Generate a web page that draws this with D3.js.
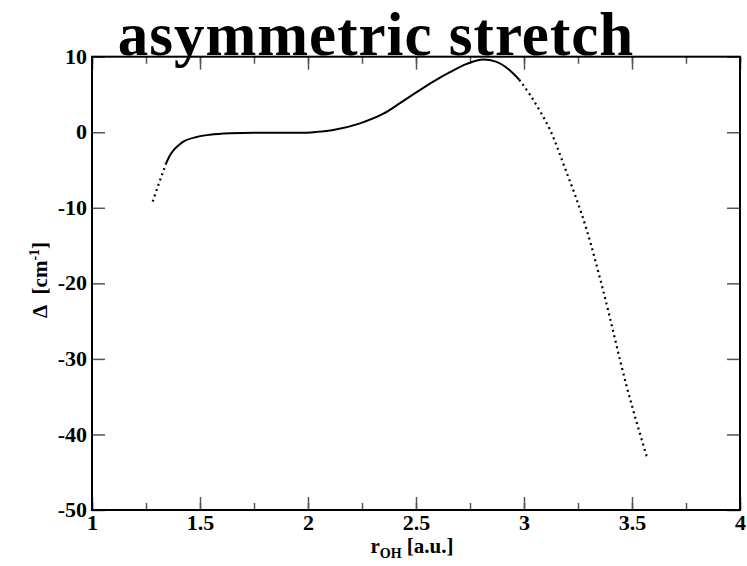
<!DOCTYPE html>
<html>
<head>
<meta charset="utf-8">
<script src="https://cdn.jsdelivr.net/npm/d3@7"></script>
<style>
  body { margin: 0; background: #fff; }
  svg text { font-family: "Liberation Serif", "DejaVu Serif", serif; font-weight: bold; }
</style>
</head>
<body>
<div id="chart"></div>
<script>
// values
const rValues = [1.281, 1.312, 1.343, 1.360, 1.377, 1.400, 1.423, 1.485, 1.546, 1.639, 1.750, 1.850,
                 1.963, 2.040, 2.117, 2.241, 2.349, 2.426, 2.503, 2.580, 2.657, 2.735, 2.812, 2.870,
                 2.930, 2.978, 3.028, 3.074, 3.120, 3.190, 3.290, 3.366, 3.475, 3.571];
const deltaValues = [-9.19, -6.6, -4.1, -3.1, -2.4, -1.75, -1.25, -0.63, -0.33, -0.13, -0.06, -0.06,
                     -0.08, 0.05, 0.30, 1.18, 2.45, 3.85, 5.3, 6.7, 7.95, 9.05, 9.62, 9.35,
                     8.3, 6.95, 4.95, 2.8, 0.35, -4.77, -12.9, -20.9, -33.6, -43.2];
// solid part of the curve, the rest is dotted
const solidFrom = 1.343, solidTo = 2.978;

const xTicks = [1, 1.5, 2, 2.5, 3, 3.5, 4];
const yTicks = [10, 0, -10, -20, -30, -40, -50];

let margin = {top: 56.7, right: 7, bottom: 56, left: 92};
let W = 747, H = 566;
let width = W - margin.left - margin.right;
let height = H - margin.top - margin.bottom;

let svg = d3.select("#chart").append("svg")
  .attr("width", W).attr("height", H);

let g = svg.append("g")
  .attr("transform", "translate(" + margin.left + "," + margin.top + ")");

let x = d3.scaleLinear().domain([1, 4]).range([0, width]);
let y = d3.scaleLinear().domain([-50, 10]).range([height, 0]);

// ticks on all four sides, pointing inward
function tickAxis(axis, scale, major, transform) {
  let minor = d3.range(scale.domain()[0], scale.domain()[1] + 1e-9, (major[1] - major[0]) / 2);
  g.append("g").attr("transform", transform || null)
    .call(axis(scale).tickValues(minor).tickSize(-7).tickFormat(""))
    .call(s => s.select(".domain").remove())
    .call(s => s.selectAll("line").attr("stroke", "#555").attr("stroke-width", 1.5));
  return g.append("g").attr("transform", transform || null)
    .call(axis(scale).tickValues(major).tickSize(-13).tickPadding(6).tickFormat(d => String(d)))
    .call(s => s.select(".domain").remove())
    .call(s => s.selectAll("line").attr("stroke", "#555").attr("stroke-width", 1.5));
}

let xb = tickAxis(d3.axisBottom, x, xTicks, "translate(0," + height + ")");
xb.selectAll("text").attr("font-size", 22).attr("fill", "#000").attr("y", 4).attr("dy", "0.71em");
let yl = tickAxis(d3.axisLeft, y, yTicks);
yl.selectAll("text").attr("font-size", 22).attr("fill", "#000").attr("dx", "0.05em").attr("dy", "0.3em");
tickAxis(d3.axisTop, x, xTicks).selectAll("text").remove();
tickAxis(d3.axisRight, y, yTicks, "translate(" + width + ",0)").selectAll("text").remove();

// frame
g.append("rect")
  .attr("width", width).attr("height", height)
  .attr("fill", "none").attr("stroke", "#000").attr("stroke-width", 2);

// curve
let pts = rValues.map((r, i) => [r, deltaValues[i]]);
let line = d3.line().x(d => x(d[0])).y(d => y(d[1])).curve(d3.curveMonotoneX);
let left = pts.filter(d => d[0] <= solidFrom);
let mid = pts.filter(d => d[0] >= solidFrom && d[0] <= solidTo);
let right = pts.filter(d => d[0] >= solidTo);

g.append("path").attr("d", line(mid))
  .attr("fill", "none").attr("stroke", "#000").attr("stroke-width", 2);
[left, right].forEach(seg => {
  g.append("path").attr("d", line(seg))
    .attr("fill", "none").attr("stroke", "#000").attr("stroke-width", 2.2)
    .attr("stroke-dasharray", "2,3.6");
});

// title
svg.append("text")
  .attr("x", 376).attr("y", 55)
  .attr("text-anchor", "middle")
  .attr("font-size", 61)
  .attr("letter-spacing", 1)
  .text("asymmetric stretch");

// x label
let xl = svg.append("text")
  .attr("x", 412).attr("y", 553)
  .attr("text-anchor", "middle")
  .attr("font-size", 21);
xl.append("tspan").text("r");
xl.append("tspan").attr("font-size", 14).attr("dy", 5).text("OH");
xl.append("tspan").attr("dy", -5).text("\u00a0[a.u.]");

// y label
let ylab = svg.append("text")
  .attr("transform", "translate(47,280) rotate(-90)")
  .attr("text-anchor", "middle")
  .attr("font-size", 21);
ylab.append("tspan").text("Δ\u00a0\u00a0[cm");
ylab.append("tspan").attr("font-size", 14).attr("dy", -8).text("-1");
ylab.append("tspan").attr("dy", 8).text("]");
</script>
</body>
</html>
